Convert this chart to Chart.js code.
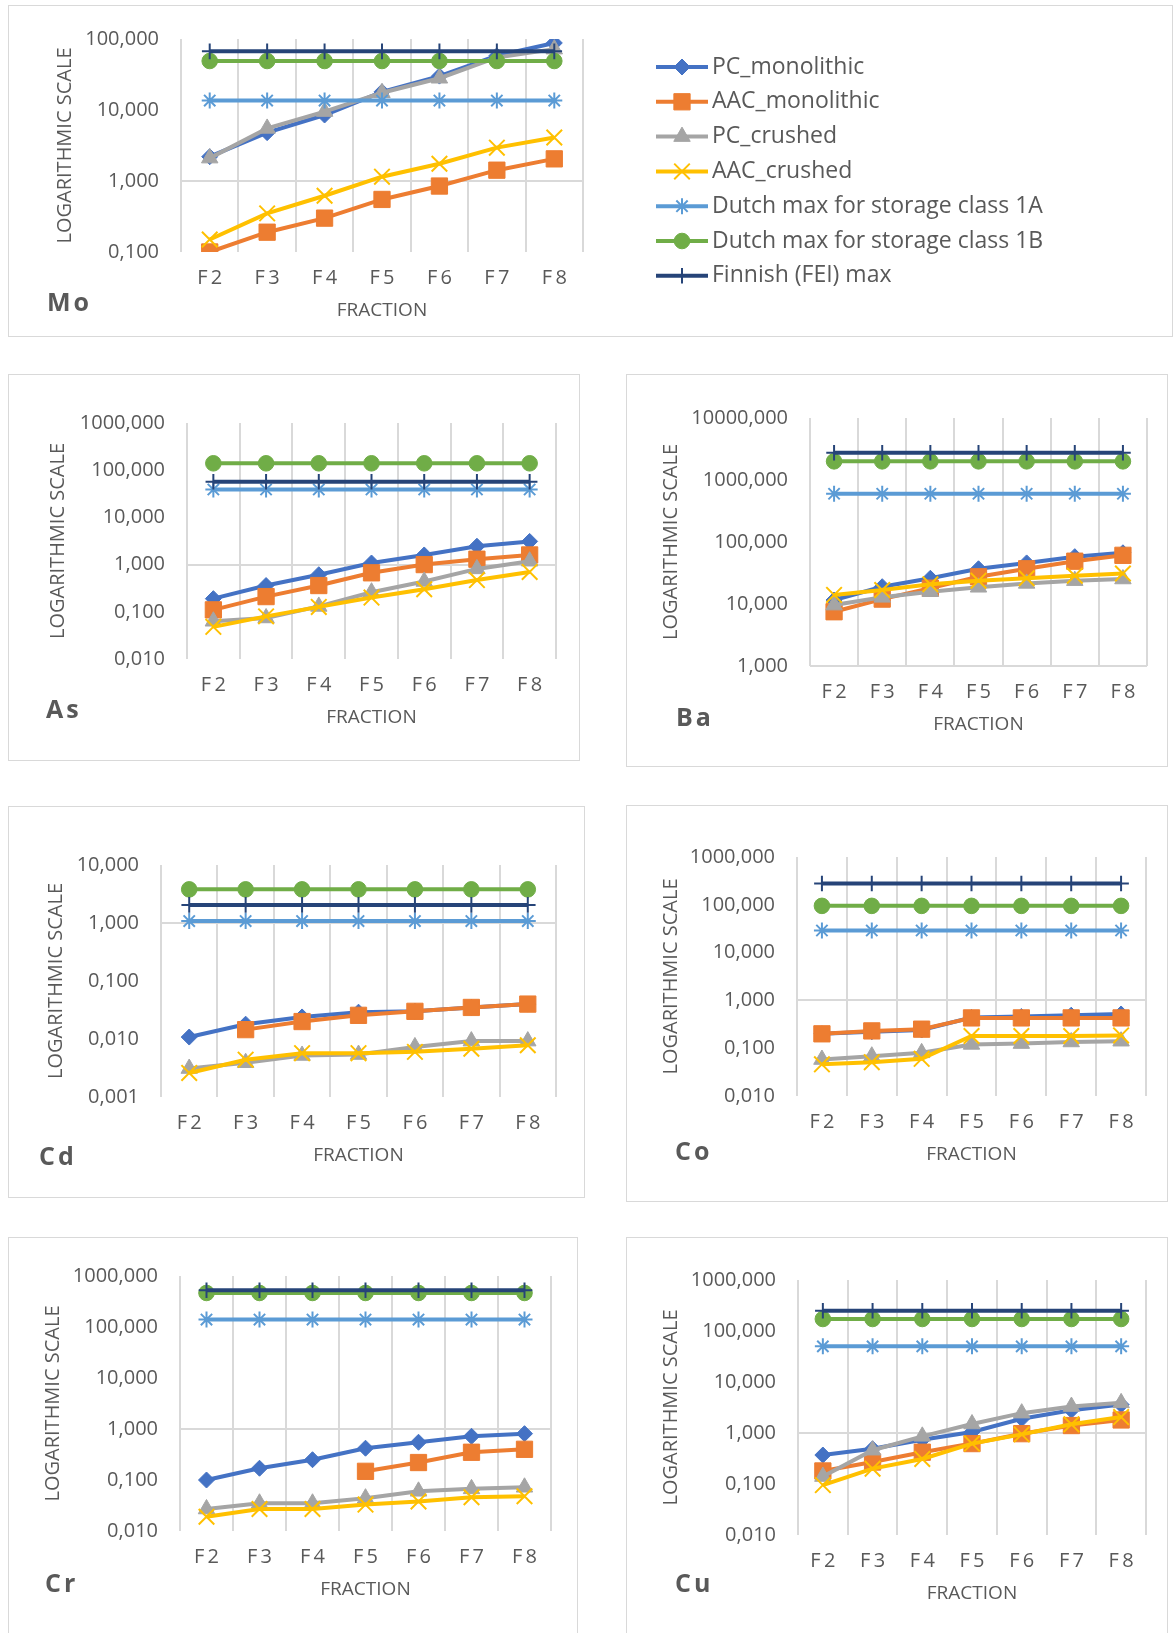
<!DOCTYPE html>
<html><head><meta charset="utf-8">
<script src="https://cdn.jsdelivr.net/npm/chart.js@4/dist/chart.umd.min.js"></script>
<style>
html,body{margin:0;padding:0;background:#fff;}
body{width:1174px;height:1633px;overflow:hidden;position:relative;font-family:'Open Sans',sans-serif;}
.box{position:absolute;border:1.5px solid #d9d9d9;box-sizing:border-box;}
canvas{position:absolute;}
.el{position:absolute;font-weight:700;font-size:25px;letter-spacing:3px;color:#595959;line-height:30px;}
</style></head><body>
<script>
// ---------- DATA ----------
const categories = ['F2','F3','F4','F5','F6','F7','F8'];
const seriesNames = ['PC_monolithic','AAC_monolithic','PC_crushed','AAC_crushed',
  'Dutch max for storage class 1A','Dutch max for storage class 1B','Finnish (FEI) max'];
const xTitle = 'FRACTION';
const yTitle = 'LOGARITHMIC SCALE';

// Mo
const moPcMono   = [2.2, 4.8, 8.5, 18, 30, 58, 88];
const moAacMono  = [0.10, 0.19, 0.30, 0.55, 0.85, 1.42, 2.05];
const moPcCrush  = [2.1, 5.5, 9.5, 17.5, 28, 55, 72];
const moAacCrush = [0.15, 0.35, 0.62, 1.15, 1.75, 2.95, 4.1];
const moDutch1A  = [13.6, 13.6, 13.6, 13.6, 13.6, 13.6, 13.6];
const moDutch1B  = [49, 49, 49, 49, 49, 49, 49];
const moFinnish  = [67, 67, 67, 67, 67, 67, 67];
// As
const asPcMono   = [0.19, 0.36, 0.61, 1.08, 1.6, 2.45, 3.1];
const asAacMono  = [0.11, 0.21, 0.36, 0.67, 1.0, 1.3, 1.6];
const asPcCrush  = [0.063, 0.074, 0.13, 0.26, 0.44, 0.81, 1.18];
const asAacCrush = [0.048, 0.08, 0.127, 0.2, 0.3, 0.47, 0.7];
const asDutch1A  = [39, 39, 39, 39, 39, 39, 39];
const asDutch1B  = [140, 140, 140, 140, 140, 140, 140];
const asFinnish  = [57, 57, 57, 57, 57, 57, 57];
// Ba
const baPcMono   = [11.6, 19, 26, 37, 46, 58, 67];
const baAacMono  = [7.5, 12, 18, 27.5, 37, 49, 61];
const baPcCrush  = [9.6, 12.8, 15.8, 18.6, 21.5, 23.8, 25.3];
const baAacCrush = [14, 16.8, 20.8, 23.8, 26, 28.6, 31];
const baDutch1A  = [600, 600, 600, 600, 600, 600, 600];
const baDutch1B  = [2000, 2000, 2000, 2000, 2000, 2000, 2000];
const baFinnish  = [2750, 2750, 2750, 2750, 2750, 2750, 2750];
// Cd
const cdPcMono   = [0.0108, 0.018, 0.024, 0.029, 0.030, 0.035, 0.040];
const cdAacMono  = [null, 0.0145, 0.020, 0.0256, 0.030, 0.035, 0.040];
const cdPcCrush  = [0.0031, 0.0039, 0.0052, 0.0054, 0.0073, 0.0092, 0.0092];
const cdAacCrush = [0.0026, 0.0044, 0.0057, 0.0057, 0.0060, 0.0068, 0.0078];
const cdDutch1A  = [1.08, 1.08, 1.08, 1.08, 1.08, 1.08, 1.08];
const cdDutch1B  = [3.8, 3.8, 3.8, 3.8, 3.8, 3.8, 3.8];
const cdFinnish  = [2.05, 2.05, 2.05, 2.05, 2.05, 2.05, 2.05];
// Co
const coPcMono   = [0.20, 0.22, 0.24, 0.44, 0.46, 0.49, 0.52];
const coAacMono  = [0.20, 0.23, 0.25, 0.43, 0.43, 0.43, 0.43];
const coPcCrush  = [0.058, 0.068, 0.08, 0.12, 0.125, 0.135, 0.14];
const coAacCrush = [0.046, 0.051, 0.06, 0.18, 0.18, 0.18, 0.185];
const coDutch1A  = [29, 29, 29, 29, 29, 29, 29];
const coDutch1B  = [95, 95, 95, 95, 95, 95, 95];
const coFinnish  = [280, 280, 280, 280, 280, 280, 280];
// Cr
const crPcMono   = [0.10, 0.17, 0.25, 0.42, 0.55, 0.72, 0.81];
const crAacMono  = [null, null, null, 0.148, 0.22, 0.35, 0.40];
const crPcCrush  = [0.027, 0.035, 0.035, 0.044, 0.06, 0.067, 0.072];
const crAacCrush = [0.019, 0.027, 0.027, 0.033, 0.038, 0.046, 0.048];
const crDutch1A  = [140, 140, 140, 140, 140, 140, 140];
const crDutch1B  = [465, 465, 465, 465, 465, 465, 465];
const crFinnish  = [525, 525, 525, 525, 525, 525, 525];
// Cu
const cuPcMono   = [0.37, 0.49, 0.74, 1.05, 1.9, 2.8, 3.6];
const cuAacMono  = [0.18, 0.27, 0.42, 0.62, 0.97, 1.4, 1.8];
const cuPcCrush  = [0.14, 0.46, 0.86, 1.5, 2.45, 3.3, 3.9];
const cuAacCrush = [0.095, 0.2, 0.31, 0.62, 0.94, 1.48, 2.05];
const cuDutch1A  = [50, 50, 50, 50, 50, 50, 50];
const cuDutch1B  = [172, 172, 172, 172, 172, 172, 172];
const cuFinnish  = [250, 250, 250, 250, 250, 250, 250];

// Y-axis decade tick values per element
const moTicks = [0.1, 1, 10, 100];
const asTicks = [0.01, 0.1, 1, 10, 100, 1000];
const baTicks = [1, 10, 100, 1000, 10000];
const cdTicks = [0.001, 0.01, 0.1, 1, 10];
const coTicks = [0.01, 0.1, 1, 10, 100, 1000];
const crTicks = [0.01, 0.1, 1, 10, 100, 1000];
const cuTicks = [0.01, 0.1, 1, 10, 100, 1000];

// ---------- STYLES ----------
const styles = [
  {color:'#4472C4', point:'rectRot', r:8,    bw:1},
  {color:'#ED7D31', point:'rect',    r:11.5, bw:1},
  {color:'#A5A5A5', point:'triangle',r:9.5,  bw:1},
  {color:'#FFC000', point:'crossRot',r:11,   bw:2},
  {color:'#5B9BD5', point:'star',    r:8,    bw:2},
  {color:'#70AD47', point:'circle',  r:7.8,  bw:1},
  {color:'#264478', point:'cross',   r:7.8,  bw:2}
];
const TEXT = '#595959';
const XH = 75;

const panels = [
  {name:'Mo', series:[moPcMono,moAacMono,moPcCrush,moAacCrush,moDutch1A,moDutch1B,moFinnish], ticks:moTicks,
   box:[8,5,1173,337], plot:[181,29,583,252], ytx:65, el:[47,301], legend:true},
  {name:'As', series:[asPcMono,asAacMono,asPcCrush,asAacCrush,asDutch1A,asDutch1B,asFinnish], ticks:asTicks,
   box:[8,374,580,761], plot:[187,423,556,659], ytx:58, el:[46,708]},
  {name:'Ba', series:[baPcMono,baAacMono,baPcCrush,baAacCrush,baDutch1A,baDutch1B,baFinnish], ticks:baTicks,
   box:[626,374,1168,767], plot:[810,418,1147,666], ytx:671, el:[676,716]},
  {name:'Cd', series:[cdPcMono,cdAacMono,cdPcCrush,cdAacCrush,cdDutch1A,cdDutch1B,cdFinnish], ticks:cdTicks,
   box:[8,806,585,1198], plot:[161,865,556,1097], ytx:56, el:[39,1155]},
  {name:'Co', series:[coPcMono,coAacMono,coPcCrush,coAacCrush,coDutch1A,coDutch1B,coFinnish], ticks:coTicks,
   box:[626,805,1168,1202], plot:[797,857,1146,1096], ytx:671, el:[675,1150]},
  {name:'Cr', series:[crPcMono,crAacMono,crPcCrush,crAacCrush,crDutch1A,crDutch1B,crFinnish], ticks:crTicks,
   box:[8,1237,578,1650], plot:[180,1276,551,1531], ytx:53, el:[45,1582]},
  {name:'Cu', series:[cuPcMono,cuAacMono,cuPcCrush,cuAacCrush,cuDutch1A,cuDutch1B,cuFinnish], ticks:cuTicks,
   box:[626,1237,1168,1650], plot:[798,1280,1146,1535], ytx:671, el:[675,1582]}
];

Chart.defaults.font.family = "'Open Sans', sans-serif";
Chart.defaults.color = TEXT;

function fmt(v){ return Number(v).toFixed(3).replace('.', ','); }

function makeLegendPlugin(cx, cy){
  return {
    id:'customLegend',
    afterDraw(chart){
      const ctx = chart.ctx;
      const x0 = 656 - cx, x1 = 708 - cx, tx = 712 - cx;
      chart.data.datasets.forEach((ds, i) => {
        const y = 67 + 34.8 * i - cy;
        ctx.save();
        ctx.strokeStyle = ds.borderColor; ctx.lineWidth = ds.borderWidth;
        ctx.beginPath(); ctx.moveTo(x0, y); ctx.lineTo(x1, y); ctx.stroke();
        ctx.fillStyle = ds.pointBackgroundColor; ctx.strokeStyle = ds.pointBorderColor;
        ctx.lineWidth = ds.pointBorderWidth;
        Chart.helpers.drawPoint(ctx, {pointStyle: ds.pointStyle, radius: ds.pointRadius, rotation: 0,
          borderWidth: ds.pointBorderWidth}, (x0 + x1) / 2, y);
        ctx.fillStyle = TEXT; ctx.font = "23px 'Open Sans'"; ctx.textBaseline = 'middle'; ctx.textAlign = 'left';
        ctx.fillText(ds.label, tx, y);
        ctx.restore();
      });
    }
  };
}

panels.forEach(p => {
  const [bl, bt, br, bb] = p.box;
  const box = document.createElement('div');
  box.className = 'box';
  box.style.left = bl + 'px'; box.style.top = bt + 'px';
  box.style.width = (br - bl) + 'px'; box.style.height = (bb - bt) + 'px';
  document.body.appendChild(box);

  const cx = bl, cy = bt, cw = br - bl, ch = Math.min(bb, 1633) - bt;
  const cv = document.createElement('canvas');
  cv.width = cw; cv.height = ch;
  cv.style.left = cx + 'px'; cv.style.top = cy + 'px';
  cv.style.width = cw + 'px'; cv.style.height = ch + 'px';
  document.body.appendChild(cv);

  const el = document.createElement('div');
  el.className = 'el'; el.textContent = p.name;
  el.style.left = p.el[0] + 'px'; el.style.top = (p.el[1] - 15) + 'px';
  document.body.appendChild(el);

  const [pl, pt, pr, pb] = p.plot;
  const datasets = p.series.map((vals, i) => ({
    label: seriesNames[i],
    data: vals,
    borderColor: styles[i].color,
    backgroundColor: styles[i].color,
    borderWidth: 4,
    pointStyle: styles[i].point,
    pointRadius: styles[i].r,
    pointBackgroundColor: styles[i].color,
    pointBorderColor: styles[i].color,
    pointBorderWidth: styles[i].bw,
    tension: 0,
    spanGaps: false,
    order: -i
  }));

  const t = p.ticks;
  new Chart(cv, {
    type: 'line',
    data: {labels: categories, datasets},
    plugins: p.legend ? [makeLegendPlugin(cx, cy)] : [],
    options: {
      responsive: false, animation: false, devicePixelRatio: 1,
      layout: {padding: {left: 0, top: pt - cy, right: cx + cw - pr, bottom: ch - (pb - cy) - XH}},
      plugins: {legend: {display: false}, tooltip: {enabled: false}},
      scales: {
        x: {
          type: 'category', offset: true,
          grid: {offset: true, color: '#d9d9d9', lineWidth: 2, drawTicks: false},
          border: {display: false},
          ticks: {padding: 14.5, color: TEXT, font: {size: 20}, maxRotation: 0, autoSkip: false,
                  callback: (v, i) => categories[i].replace(/^F/, 'F\u2009')},
          title: {display: true, text: xTitle, color: TEXT, font: {size: 19}, padding: {top: 0, bottom: XH - 59 - 11.4}},
          afterFit: s => { s.height = XH; }
        },
        y: {
          type: 'logarithmic', min: t[0], max: t[t.length - 1],
          grid: {color: c => (c.tick && c.tick.value === 1) ? '#d9d9d9' : 'rgba(0,0,0,0)', lineWidth: 2, drawTicks: false},
          border: {display: false},
          ticks: {padding: 22, color: TEXT, font: {size: 20}, autoSkip: false, callback: v => fmt(v)},
          afterBuildTicks: s => { s.ticks = t.map(v => ({value: v})); },
          title: {display: true, text: yTitle, color: TEXT, font: {size: 20}, padding: {top: p.ytx - cx - 12, bottom: 0}},
          afterFit: s => { s.width = pl - cx; }
        }
      }
    }
  });
});
</script>
</body></html>
